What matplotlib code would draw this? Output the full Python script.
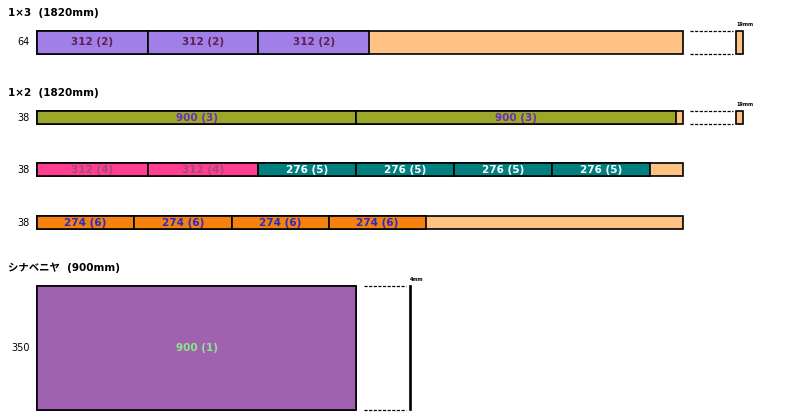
import matplotlib
matplotlib.use('Agg')
import matplotlib.pyplot as plt
from matplotlib.patches import Rectangle

plt.rcParams['font.family'] = ['DejaVu Sans', 'Noto Sans CJK JP']

# 板材データ (mm)
board_titles = ['1×3  (1820mm)', '1×2  (1820mm)', 'シナベニヤ  (900mm)']
title_rows = [0, 1, 4]          # 見出しを付ける行
board_lengths = [1820, 1820, 1820, 1820, 900]
board_widths = [64, 38, 38, 38, 350]
row_cuts = [[312, 312, 312],
            [900, 900],
            [312, 312, 276, 276, 276, 276],
            [274, 274, 274, 274],
            [900]]
row_ids = [[2, 2, 2],
           [3, 3],
           [4, 4, 5, 5, 5, 5],
           [6, 6, 6, 6],
           [1]]
thickness = {0: 19, 1: 19, 4: 4}  # 厚み表示する行

# 部材ごとの色
part_colors = {1: '#a062b0', 2: '#a080e8', 3: '#9ca82a', 4: '#ff4090',
               5: '#008080', 6: '#f5820f'}
text_colors = {1: '#88e888', 2: '#602050', 3: '#6a2fc0', 4: '#a8487c',
               5: 'white', 6: '#2a2ac8'}
rest_color = '#ffc285'

# レイアウト (px -> mm)
W, H = 800, 420
s = 646 / 1820           # px per mm
left_px = 37
row_top_px = [31, 111, 163, 216, 286]
title_y_px = [13, 93, 268]

fig = plt.figure(figsize=(W / 100, H / 100), dpi=100)
ax = fig.add_axes([0, 0, 1, 1])
ax.set_xlim(-left_px / s, (W - left_px) / s)
ax.set_ylim(H / s, 0)
ax.axis('off')

lw = 1.2

for t, r, ty in zip(board_titles, title_rows, title_y_px):
    ax.text(-left_px / s + 8 / s, ty / s, t, fontsize=7.5, fontweight='bold',
            va='center', ha='left')

for r in range(len(board_lengths)):
    top = row_top_px[r] / s
    w = board_widths[r]
    L = board_lengths[r]
    # 残り部分
    ax.add_patch(Rectangle((0, top), L, w, facecolor=rest_color,
                           edgecolor='black', lw=lw))
    x = 0
    for c, pid in zip(row_cuts[r], row_ids[r]):
        ax.add_patch(Rectangle((x, top), c, w, facecolor=part_colors[pid],
                               edgecolor='black', lw=lw))
        ax.text(x + c / 2, top + w / 2, f'{c} ({pid})', fontsize=7.5,
                fontweight='bold', color=text_colors[pid],
                ha='center', va='center')
        x += c
    ax.text(-7 / s, top + w / 2, str(w), fontsize=7, ha='right', va='center')

    if r in thickness:
        th = thickness[r]
        tx = L + 150
        ax.plot([L + 20, L + 140], [top, top], color='black', lw=0.9,
                ls=(0, (2.5, 1.2)))
        ax.plot([L + 20, L + 140], [top + w, top + w], color='black', lw=0.9,
                ls=(0, (2.5, 1.2)))
        if th > 5:
            ax.add_patch(Rectangle((tx, top), th, w, facecolor=rest_color,
                                   edgecolor='black', lw=lw))
        else:
            ax.add_patch(Rectangle((tx, top), th, w, facecolor='black',
                                   edgecolor='black', lw=lw))
        ax.text(tx, top - 4 / s, f'{th}mm', fontsize=3.5, fontweight='bold',
                ha='left', va='bottom')

fig.savefig('out.png', dpi=100)
